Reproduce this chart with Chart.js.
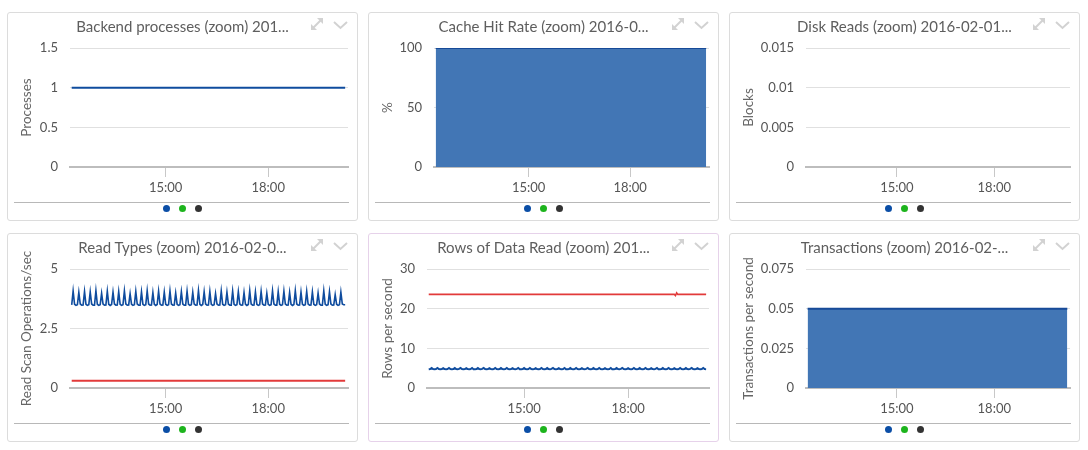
<!DOCTYPE html>
<html>
<head>
<meta charset="utf-8">
<title>Postgres dashboard</title>
<script src="https://cdn.jsdelivr.net/npm/chart.js@4.4.1/dist/chart.umd.min.js"></script>
<style>
    body   { margin: 0; background: #fff; font-family: Lato, 'Open Sans', sans-serif; }
    .panel { position: absolute; width: 349px; height: 207px; border: 1px solid #dcdcdc;
             border-radius: 3px; background: #fff; }
    .panel.active { border-color: #e6d2ea; }
    .title { position: absolute; left: 0; right: 0; top: 4px; text-align: center;
             font-size: 15px; line-height: 18px; color: #5e5e5e; white-space: nowrap; z-index: 2; }
    .icons { position: absolute; left: 302px; top: 3px; z-index: 2; }
    canvas { position: absolute; left: 0; top: 0; }
    .sep   { position: absolute; left: 6px; right: 8px; top: 189px; border-top: 1px solid #b8b8b8; }
    .dots  { position: absolute; left: 0; right: 0; top: 192px; text-align: center; font-size: 0; }
    .dot   { display: inline-block; width: 7px; height: 7px; border-radius: 50%; margin: 0 4.5px; }
</style>
</head>
<body>
<div id="board"></div>
<script>
// ─── Time axis (minutes since midnight) ───────────────────────────────────────
const X_MIN = 732;              // 12:12
const X_MAX = 1220;             // 20:20
const X_TICKS = [900, 1080];    // 15:00, 18:00
const SAMPLE_START = 735;       // 12:15
const SAMPLE_STEP = 2.5;        // minutes between samples
const SPAN_TIMES = [735, 1215];

// ─── Series values ────────────────────────────────────────────────────────────
const backendProcesses = [1, 1];
const cacheHitRate = [100, 100];
const diskReads = [];
const transactions = [0.05, 0.05];

const readTypesSeq = [
    3.49, 4.08, 3.52, 3.47, 3.50, 4.02, 3.53, 3.48, 3.49, 4.06, 3.52, 3.47,
    3.50, 4.04, 3.53, 3.48, 3.48, 4.09, 3.52, 3.47, 3.50, 3.98, 3.53, 3.48,
    3.49, 4.07, 3.52, 3.47, 3.51, 4.03, 3.53, 3.48, 3.49, 4.05, 3.52, 3.47,
    3.50, 4.08, 3.53, 3.48, 3.49, 3.96, 3.52, 3.47, 3.50, 4.06, 3.53, 3.48,
    3.48, 4.04, 3.52, 3.47, 3.50, 4.09, 3.53, 3.48, 3.49, 4.01, 3.52, 3.47,
    3.51, 4.07, 3.53, 3.48, 3.49, 4.03, 3.52, 3.47, 3.50, 4.08, 3.53, 3.48,
    3.49, 3.99, 3.52, 3.47, 3.50, 4.05, 3.53, 3.48, 3.48, 4.07, 3.52, 3.47,
    3.50, 4.02, 3.53, 3.48, 3.49, 4.09, 3.52, 3.47, 3.51, 4.04, 3.53, 3.48,
    3.49, 4.06, 3.52, 3.47, 3.50, 3.97, 3.53, 3.48, 3.49, 4.08, 3.52, 3.47,
    3.50, 4.03, 3.53, 3.48, 3.48, 4.07, 3.52, 3.47, 3.50, 4.05, 3.53, 3.48,
    3.49, 4.01, 3.52, 3.47, 3.51, 4.09, 3.53, 3.48, 3.49, 4.04, 3.52, 3.47,
    3.50, 4.06, 3.53, 3.48, 3.49, 3.98, 3.52, 3.47, 3.50, 4.08, 3.53, 3.48,
    3.48, 4.05, 3.52, 3.47, 3.50, 4.07, 3.53, 3.48, 3.49, 4.02, 3.52, 3.47,
    3.51, 4.09, 3.53, 3.48, 3.49, 4.03, 3.52, 3.47, 3.50, 4.06, 3.53, 3.48,
    3.49, 4.04, 3.52, 3.47, 3.50, 3.99, 3.53, 3.48, 3.48, 4.08, 3.52, 3.47,
    3.50, 4.05, 3.53, 3.48, 3.49, 3.92, 3.52, 3.47, 3.50, 4.03, 3.53, 3.50,
    3.50
];
const readTypesIdx = [0.3, 0.3];

const rowsSeqRead = [
    4.74, 4.79, 5.03, 4.77, 4.73, 4.80, 5.05, 4.76, 4.75, 4.78, 5.02, 4.77,
    4.73, 4.80, 5.04, 4.76, 4.74, 4.79, 5.03, 4.78, 4.75, 4.81, 5.05, 4.76,
    4.74, 4.78, 5.02, 4.77, 4.73, 4.80, 5.04, 4.75, 4.75, 4.79, 5.03, 4.77,
    4.74, 4.81, 5.05, 4.76, 4.73, 4.78, 5.02, 4.77, 4.75, 4.80, 5.04, 4.76,
    4.74, 4.79, 5.03, 4.78, 4.73, 4.80, 5.05, 4.76, 4.75, 4.78, 5.02, 4.77,
    4.73, 4.81, 5.04, 4.75, 4.74, 4.79, 5.03, 4.77, 4.75, 4.80, 5.05, 4.76,
    4.74, 4.78, 5.02, 4.77, 4.73, 4.80, 5.04, 4.76, 4.75, 4.79, 5.03, 4.78,
    4.74, 4.81, 5.05, 4.76, 4.73, 4.78, 5.02, 4.77, 4.75, 4.80, 5.04, 4.75,
    4.74, 4.79, 5.03, 4.77, 4.73, 4.80, 5.05, 4.76, 4.75, 4.78, 5.02, 4.77,
    4.73, 4.81, 5.04, 4.76, 4.74, 4.79, 5.03, 4.78, 4.75, 4.80, 5.05, 4.76,
    4.74, 4.78, 5.02, 4.77, 4.73, 4.80, 5.04, 4.75, 4.75, 4.79, 5.03, 4.77,
    4.74, 4.81, 5.05, 4.76, 4.73, 4.78, 5.02, 4.77, 4.75, 4.80, 5.04, 4.76,
    4.74, 4.79, 5.03, 4.78, 4.73, 4.80, 5.05, 4.76, 4.75, 4.78, 5.02, 4.77,
    4.73, 4.81, 5.04, 4.75, 4.74, 4.79, 5.03, 4.77, 4.75, 4.80, 5.05, 4.76,
    4.74, 4.78, 5.02, 4.77, 4.73, 4.80, 5.04, 4.76, 4.75, 4.79, 5.03, 4.78,
    4.74, 4.81, 5.05, 4.76, 4.73, 4.78, 5.02, 4.77, 4.75, 4.80, 5.04, 4.76,
    4.75
];
const rowsFetchTimes = [735, 1160, 1162, 1164, 1166, 1215];
const rowsFetched = [23.6, 23.6, 23.3, 24.0, 23.6, 23.6];

// ─── Colours ──────────────────────────────────────────────────────────────────
const BLUE = '#0f4c9e';
const FILL = '#4276b5';
const RED = '#e23a3a';
const LEGEND = ['#0b4ea6', '#1db41d', '#333333'];

// ─── Helpers ──────────────────────────────────────────────────────────────────
const pairs = (times, values) => values.map((v, i) => ({ x: times[i], y: v }));
const sampled = (values) => values.map((v, i) => ({ x: SAMPLE_START + i * SAMPLE_STEP, y: v }));

const lineSet = (data, color, width = 2) => ({ data, borderColor: color, borderWidth: width, fill: false });
const areaSet = (data) => ({ data, borderColor: '#174a98', borderWidth: 2, backgroundColor: FILL, fill: 'origin' });

const PANELS = [
    { left: 7,   top: 12,  title: 'Backend processes (zoom) 201...', yTitle: 'Processes', yMax: 1.5, yStep: 0.5, yWidth: 55,
      sets: [lineSet(pairs(SPAN_TIMES, backendProcesses), BLUE)] },
    { left: 368, top: 12,  title: 'Cache Hit Rate (zoom) 2016-0...', yTitle: '%', yMax: 100, yStep: 50, yWidth: 58,
      sets: [areaSet(pairs(SPAN_TIMES, cacheHitRate))] },
    { left: 729, top: 12,  title: 'Disk Reads (zoom) 2016-02-01...', yTitle: 'Blocks', yMax: 0.015, yStep: 0.005, yWidth: 69,
      sets: [lineSet(pairs(SPAN_TIMES, diskReads), BLUE)] },
    { left: 7,   top: 233, title: 'Read Types (zoom) 2016-02-0...', yTitle: 'Read Scan Operations/sec', yMax: 5, yStep: 2.5, yWidth: 55,
      sets: [lineSet(sampled(readTypesSeq), BLUE, 1.6), lineSet(pairs(SPAN_TIMES, readTypesIdx), RED)] },
    { left: 368, top: 233, title: 'Rows of Data Read (zoom) 201...', yTitle: 'Rows per second', yMax: 30, yStep: 10, yWidth: 51, active: true,
      sets: [lineSet(pairs(rowsFetchTimes, rowsFetched), RED, 1.6), lineSet(sampled(rowsSeqRead), BLUE)] },
    { left: 729, top: 233, title: 'Transactions (zoom) 2016-02-...', yTitle: 'Transactions per second', yMax: 0.075, yStep: 0.025, yWidth: 69,
      sets: [areaSet(pairs(SPAN_TIMES, transactions))] }
];

const ICONS = `<svg class="icons" width="40" height="16" viewBox="0 0 40 16">
  <g fill="#d2d2d2" stroke="#d2d2d2">
    <line x1="3" y1="12" x2="11" y2="4" stroke-width="2"/>
    <polygon points="1,14 1,8 7,14" stroke="none"/>
    <polygon points="13,2 7,2 13,8" stroke="none"/>
  </g>
  <polyline points="24,6 30.5,12 37,6" fill="none" stroke="#d2d2d2" stroke-width="2"/>
</svg>`;

const fmt = (v) => String(+Number(v).toFixed(4));

const board = document.getElementById('board');

PANELS.forEach((p, idx) => {
    const panel = document.createElement('div');
    panel.className = 'panel' + (p.active ? ' active' : '');
    panel.style.left = p.left + 'px';
    panel.style.top = p.top + 'px';
    panel.innerHTML = `<canvas id="c${idx}" width="349" height="182"></canvas>
        <div class="title">${p.title}</div>${ICONS}
        <div class="sep"></div>
        <div class="dots">${LEGEND.map(c => `<span class="dot" style="background:${c}"></span>`).join('')}</div>`;
    board.appendChild(panel);

    new Chart(document.getElementById('c' + idx), {
        type: 'line',
        data: { datasets: p.sets },
        options: {
            responsive: false,
            animation: false,
            layout: { padding: { left: 7, right: 9, top: 35, bottom: 0 } },
            plugins: { legend: { display: false }, tooltip: { enabled: false } },
            elements: { point: { radius: 0 }, line: { tension: 0 } },
            scales: {
                x: {
                    type: 'linear', min: X_MIN, max: X_MAX,
                    afterBuildTicks: (s) => { s.ticks = X_TICKS.map(v => ({ value: v })); },
                    afterFit: (s) => { s.height = 28; },
                    grid: { drawOnChartArea: false, drawTicks: true, tickLength: 10, color: '#c8c8c8' },
                    border: { display: true, color: '#bdbdbd', width: 2 },
                    ticks: {
                        callback: (v) => (v / 60) + ':00',
                        font: { family: 'Lato', size: 13 }, color: '#555',
                        padding: 3, maxRotation: 0, autoSkip: false
                    }
                },
                y: {
                    min: 0, max: p.yMax, z: 1,
                    afterFit: (s) => { s.width = p.yWidth; },
                    grid: { color: 'rgba(0,0,0,0.12)', drawTicks: true, tickLength: 10, tickColor: 'rgba(0,0,0,0)' },
                    border: { display: false },
                    ticks: { stepSize: p.yStep, callback: fmt, font: { family: 'Lato', size: 13 }, color: '#555', padding: 2 },
                    title: { display: true, text: p.yTitle, font: { family: 'Lato', size: 13.5 }, color: '#666', padding: { top: 4, bottom: 0 } }
                }
            }
        }
    });
});
</script>
</body>
</html>
